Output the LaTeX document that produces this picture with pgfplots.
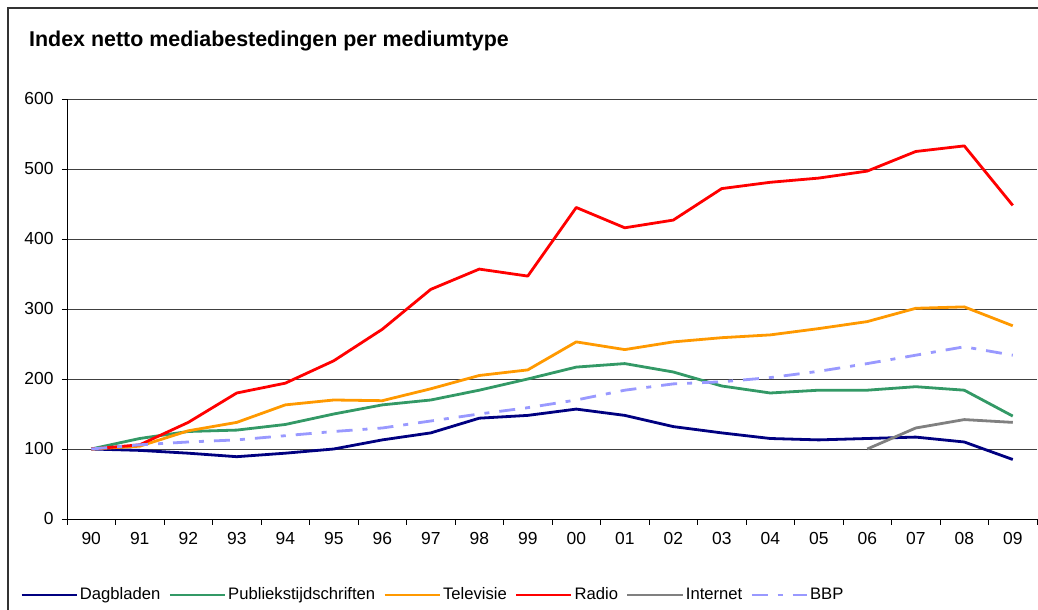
\documentclass[border=0pt]{standalone}
\usepackage{fontspec}
\setmainfont{Liberation Sans}
\usepackage{pgfplots}
\pgfplotsset{compat=1.18}

\definecolor{dagblad}{HTML}{000080}
\definecolor{publiek}{HTML}{339966}
\definecolor{tv}{HTML}{FF9900}
\definecolor{radio}{HTML}{FF0000}
\definecolor{internet}{HTML}{808080}
\definecolor{bbp}{HTML}{9999FF}

\begin{document}
\begin{tikzpicture}[x=1bp,y=1bp]
  \useasboundingbox (0,0) rectangle (1038,610);
  % chart frame (left and top edge visible)
  \draw[line width=1.6bp, black!80] (8,-5) -- (8,602) -- (1045,602);
  \node[anchor=base west, inner sep=0pt, font=\bfseries\fontsize{21.5}{25}\selectfont] at (29,563) {Index netto mediabestedingen per mediumtype};

  \begin{axis}[
    at={(67bp,91bp)}, anchor=south west,
    scale only axis,
    width=970bp, height=420bp,
    xmin=-0.5, xmax=19.5,
    ymin=0, ymax=600,
    ytick={0,100,...,600},
    xtick={0,...,19},
    xticklabels={90,91,92,93,94,95,96,97,98,99,00,01,02,03,04,05,06,07,08,09},
    minor xtick={-0.5,0.5,...,19.5},
    axis x line*=bottom, axis y line*=left,
    axis line style={-, black, line width=0.8bp},
    tick align=outside,
    major tick length=5bp, minor tick length=6bp,
    major x tick style={draw=none},
    minor x tick style={black, line width=0.8bp},
    major y tick style={black, line width=0.8bp},
    ymajorgrids,
    grid style={black!75, line width=0.8bp},
    /pgf/number format/assume math mode=true,
    ticklabel style={font=\fontsize{17.5}{20}\selectfont},
    xticklabel style={yshift=-5bp},
    yticklabel style={xshift=-5bp},
    every axis plot/.append style={line width=2.8bp, line join=round},
    legend style={at={(-0.0485,-0.181)}, anchor=west, draw=none, fill=none,
      inner sep=0pt, legend columns=-1,
      font=\fontsize{16.7}{18}\selectfont,
      nodes={text height=12bp, text depth=3.5bp},
      /tikz/every even column/.append style={column sep=6bp}},
    legend image code/.code={\draw[#1] (0bp,0bp) -- (55bp,0bp);},
  ]
  \addplot[dagblad] coordinates {
    (0,100) (1,98) (2,94) (3,89) (4,94) (5,100) (6,113) (7,123) (8,144) (9,148)
    (10,157) (11,148) (12,132) (13,123) (14,115) (15,113) (16,115) (17,117) (18,110) (19,85)};
  \addplot[publiek] coordinates {
    (0,100) (1,115) (2,125) (3,127) (4,135) (5,150) (6,163) (7,170) (8,184) (9,200)
    (10,217) (11,222) (12,210) (13,190) (14,180) (15,184) (16,184) (17,189) (18,184) (19,147)};
  \addplot[tv] coordinates {
    (0,100) (1,104) (2,126) (3,138) (4,163) (5,170) (6,169) (7,186) (8,205) (9,213)
    (10,253) (11,242) (12,253) (13,259) (14,263) (15,272) (16,282) (17,301) (18,303) (19,276)};
  \addplot[radio] coordinates {
    (0,100) (1,106) (2,138) (3,180) (4,194) (5,226) (6,271) (7,328) (8,357) (9,347)
    (10,445) (11,416) (12,427) (13,472) (14,481) (15,487) (16,497) (17,525) (18,533) (19,448)};
  \addplot[internet] coordinates {
    (16,100) (17,130) (18,142) (19,138)};
  \addplot[bbp, dash pattern=on 16bp off 10bp on 5bp off 10bp] coordinates {
    (0,100) (1,106) (2,110) (3,113) (4,119) (5,125) (6,130) (7,140) (8,150) (9,159)
    (10,170) (11,184) (12,193) (13,196) (14,202) (15,211) (16,222) (17,234) (18,246) (19,234)};
  \legend{Dagbladen, Publiekstijdschriften, Televisie, Radio, Internet, BBP}
  \end{axis}
\end{tikzpicture}
\end{document}
